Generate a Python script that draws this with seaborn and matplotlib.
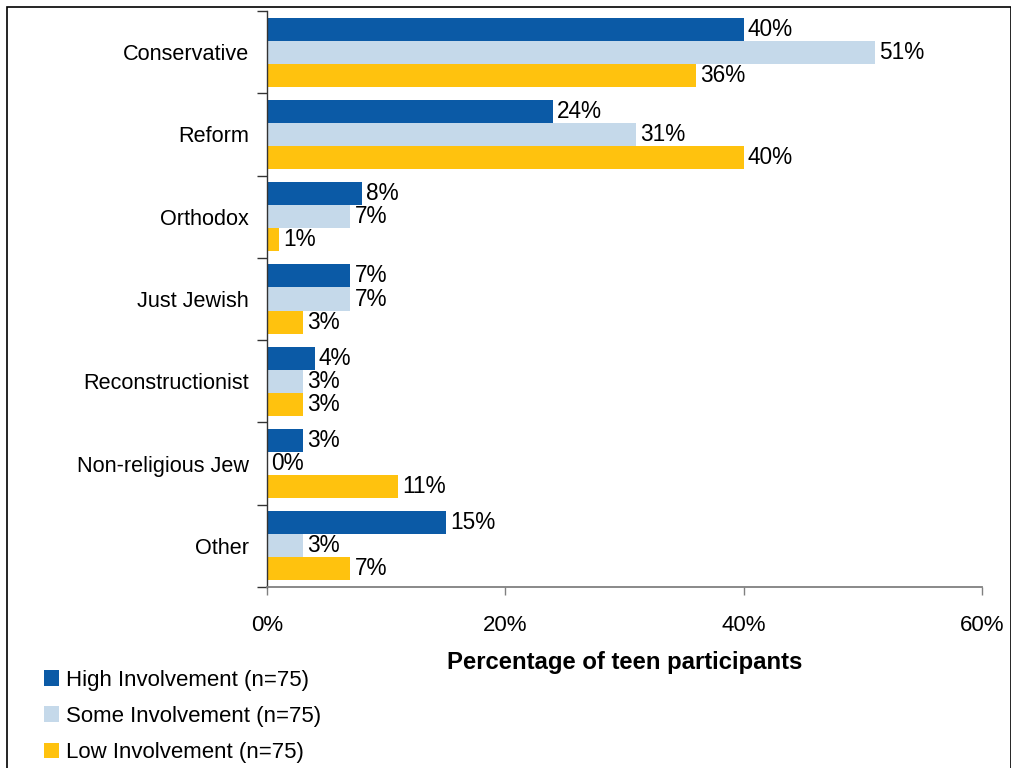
import matplotlib
matplotlib.use("Agg")
import matplotlib.pyplot as plt
from matplotlib.patches import Rectangle, Patch
from matplotlib.ticker import FuncFormatter, FixedLocator
import seaborn as sns
import pandas as pd

categories = ["Conservative", "Reform", "Orthodox", "Just Jewish",
              "Reconstructionist", "Non-religious Jew", "Other"]
series_names = ["High Involvement (n=75)", "Some Involvement (n=75)",
                "Low Involvement (n=75)"]
high = [40, 24, 8, 7, 4, 3, 15]
some = [51, 31, 7, 7, 3, 0, 3]
low = [36, 40, 1, 3, 3, 11, 7]
x_ticks = [0, 20, 40, 60]
colors = ["#0B5AA6", "#C5D9EA", "#FFC20E"]

df = pd.DataFrame({
    "Affiliation": categories * 3,
    "Group": [series_names[0]] * 7 + [series_names[1]] * 7 + [series_names[2]] * 7,
    "Percent": high + some + low,
})

sns.set_theme(style="white")
plt.rcParams["font.family"] = ["Liberation Sans", "DejaVu Sans"]
plt.rcParams["text.color"] = "black"
FS = 16

fig = plt.figure(figsize=(10.12, 7.68), dpi=100)
ax = fig.add_axes([267 / 1012, 1 - 587 / 768, (982 - 267) / 1012, (587 - 11) / 768])

sns.barplot(data=df, y="Affiliation", x="Percent", hue="Group",
            order=categories, hue_order=series_names, palette=colors,
            orient="h", width=0.84, saturation=1, linewidth=0,
            ax=ax, legend=False)

for cont in ax.containers:
    ax.bar_label(cont, fmt="%d%%", padding=3, fontsize=16.3, color="black")

ax.set_xlim(0, 60)
ax.set_ylim(6.5, -0.5)
ax.xaxis.set_major_locator(FixedLocator(x_ticks))
ax.xaxis.set_major_formatter(FuncFormatter(lambda v, p: f"{int(v)}%"))
ax.tick_params(axis="x", which="major", direction="out", length=6, width=1,
               color="#808080", pad=14, labelsize=FS, labelcolor="black",
               bottom=True)
ax.tick_params(axis="y", which="major", length=0, pad=13, labelsize=15.6,
               labelcolor="black", left=False)
ax.yaxis.set_minor_locator(FixedLocator([i - 0.5 for i in range(8)]))
ax.tick_params(axis="y", which="minor", direction="out", length=7, width=1,
               color="#333333", left=True)

for side in ("top", "right"):
    ax.spines[side].set_visible(False)
ax.spines["left"].set_color("#333333")
ax.spines["bottom"].set_color("#808080")
ax.spines["left"].set_linewidth(1)
ax.spines["bottom"].set_linewidth(1.3)

ax.set_ylabel("")
ax.set_xlabel("Percentage of teen participants", fontsize=17.2,
              fontweight="bold", labelpad=11, color="black")

handles = [Patch(facecolor=c, edgecolor="none") for c in colors]
fig.legend(handles, series_names, loc="upper left",
           bbox_to_anchor=(35 / 1012, 1 - 661 / 768), frameon=False,
           fontsize=FS, handlelength=0.7, handleheight=0.7,
           handletextpad=0.3, labelspacing=0.68, borderaxespad=0,
           labelcolor="black")

fig.patches.append(Rectangle((7 / 1012, -0.05), 1004 / 1012, 1.05 - 7 / 768,
                             transform=fig.transFigure, fill=False,
                             edgecolor="black", linewidth=1.2))

fig.savefig("out.png", dpi=100)
